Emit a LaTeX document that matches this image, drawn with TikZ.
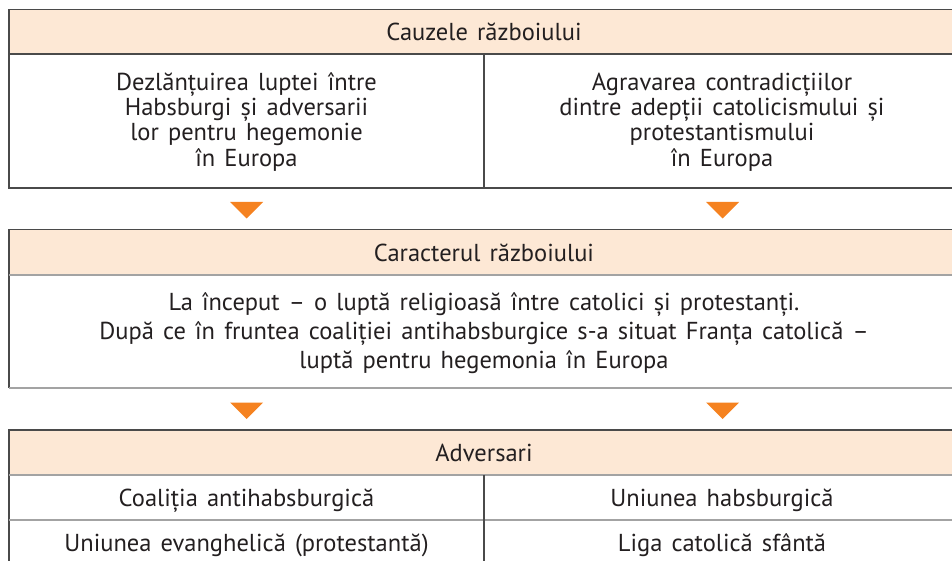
\documentclass[tikz,border=0pt]{standalone}
\usepackage{fontspec}
\setmainfont{PT Sans}[WordSpace=1.4]
\definecolor{peach}{HTML}{FDE8D5}
\definecolor{orng}{HTML}{F58220}
\definecolor{frame}{HTML}{4A4A4A}
\definecolor{innerc}{HTML}{A3A3A3}
\definecolor{ink}{HTML}{231F20}
\tikzset{
  txt/.style={text=ink, font=\fontsize{24.5}{26}\selectfont, inner sep=0pt, anchor=base},
  outerline/.style={draw=frame, line width=1.3pt},
  innerline/.style={draw=innerc, line width=1.2pt},
  marker/.style={fill=orng},
}
\begin{document}
\begin{tikzpicture}[x=1pt,y=-1pt]
\useasboundingbox (0,0) rectangle (952,561);
% ---------- box 1
\fill[peach] (9,9.5) rectangle (960,54);
\draw[outerline] (960,9.5) -- (9,9.5) -- (9,188) -- (960,188);
\draw[outerline] (9,54) -- (960,54);
\draw[outerline] (484,54) -- (484,188);
\node[txt] (h1) at (484,40.5) {Cauzele războiului};
\node[txt] (l1a) at (246.5,90.5) {Dezlănțuirea luptei între};
\node[txt] (l1b) at (246.5,115.7) {Habsburgi și adversarii};
\node[txt] (l1c) at (246.5,140.9) {lor pentru hegemonie};
\node[txt] (l1d) at (246.5,166.1) {în Europa};
\node[txt] (r1a) at (722,90.5) {Agravarea contradicțiilor};
\node[txt] (r1b) at (722,115.7) {dintre adepții catolicismului și};
\node[txt] (r1c) at (722,140.9) {protestantismului};
\node[txt] (r1d) at (722,166.1) {în Europa};
% ---------- markers 1
\fill[marker] (230,202) -- (263,202) -- (246.5,218.5) -- cycle;
\fill[marker] (706,202) -- (739,202) -- (722.5,218.5) -- cycle;
% ---------- box 2
\fill[peach] (9,229.5) rectangle (960,275);
\draw[outerline] (960,229.5) -- (9,229.5) -- (9,388);
\draw[innerline] (9,275) -- (960,275);
\draw[innerline] (9,388) -- (960,388);
\node[txt] (h2) at (484,261) {Caracterul războiului};
\node[txt] (b2a) at (484,310.5) {La început – o luptă religioasă între catolici și protestanți.};
\node[txt] (b2b) at (484,339.3) {După ce în fruntea coaliției antihabsburgice s-a situat Franța catolică –};
\node[txt] (b2c) at (484,368) {luptă pentru hegemonia în Europa};
% ---------- markers 2
\fill[marker] (230,402.5) -- (263,402.5) -- (246.5,419) -- cycle;
\fill[marker] (706,402.5) -- (739,402.5) -- (722.5,419) -- cycle;
% ---------- box 3
\fill[peach] (9,430) rectangle (960,475);
\draw[outerline] (960,430) -- (9,430) -- (9,561);
\draw[innerline] (9,475) -- (960,475);
\draw[innerline] (9,520) -- (960,520);
\draw[outerline] (484,475) -- (484,561);
\node[txt] (h3) at (484,461) {Adversari};
\node[txt] (a1) at (246.5,506.5) {Coaliția antihabsburgică};
\node[txt] (a2) at (722,506.5) {Uniunea habsburgică};
\node[txt] (a3) at (246.5,551.5) {Uniunea evanghelică (protestantă)};
\node[txt] (a4) at (722,551.5) {Liga catolică sfântă};
\end{tikzpicture}
\end{document}
